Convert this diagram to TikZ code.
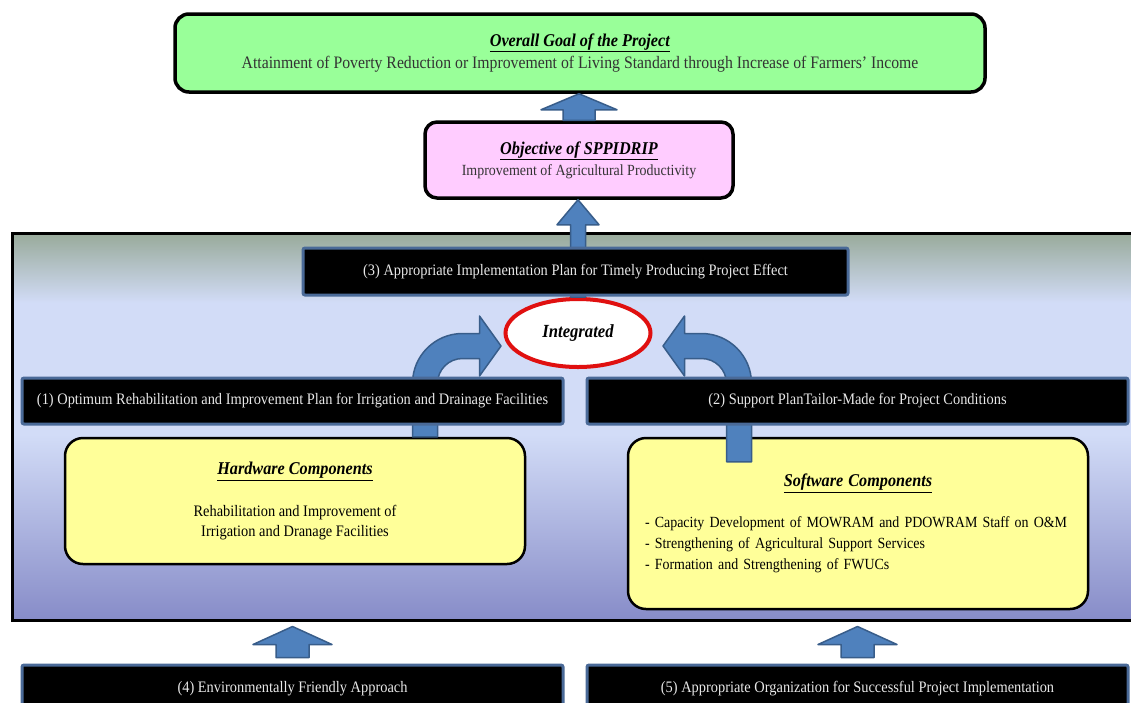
\documentclass[tikz,border=0pt]{standalone}
\usepackage{fontspec}
\setmainfont{Liberation Serif}[FakeStretch=0.9]
\usetikzlibrary{positioning}
\usetikzlibrary{shapes.geometric}
\usetikzlibrary{calc}

\definecolor{goalgreen}{HTML}{99FF99}
\definecolor{objpink}{HTML}{FFCCFF}
\definecolor{compyellow}{HTML}{FFFF99}
\definecolor{arrowblue}{HTML}{4F81BD}
\definecolor{arrowedge}{HTML}{385D8A}
\definecolor{planedge}{HTML}{4A6A98}
\definecolor{paneltop}{HTML}{98AA9A}
\definecolor{panelmid}{HTML}{D2DCF7}
\definecolor{panelbot}{HTML}{878CC8}
\definecolor{plantext}{HTML}{E8E8E8}
\definecolor{ringred}{HTML}{E01010}

\pgfdeclareverticalshading{panelshade}{100bp}{color(0bp)=(panelbot); color(25bp)=(panelbot); color(49bp)=(panelmid); color(66bp)=(panelmid); color(75bp)=(paneltop); color(100bp)=(paneltop)}

\newcommand{\titlesize}{\fontsize{18}{22}\selectfont}
\newcommand{\boxtitle}[1]{{\titlesize\color{black}\underline{\textbf{\textit{#1}}}}}

% straight block arrow: from, to, shaft half width, head half width, head length
\newcommand{\upblock}[5]{%
  \path[blockarrow] let \p1 = (#1), \p2 = (#2) in
    (\x1-#3pt,\y1) -- (\x1-#3pt,\y2-#5pt) -- (\x1-#4pt,\y2-#5pt) -- (\x1,\y2)
    -- (\x1+#4pt,\y2-#5pt) -- (\x1+#3pt,\y2-#5pt) -- (\x1+#3pt,\y1) -- cycle;}

\begin{document}
\begin{tikzpicture}[
        x = 1pt, y = -1pt, % pixel grid, y downwards
        goalbox/.style = {draw=black, line width=3.5pt, rounded corners=14pt, fill=goalgreen,
                          minimum width=810pt, minimum height=78pt, align=center, inner sep=0pt},
        objbox/.style = {draw=black, line width=3.5pt, rounded corners=12pt, fill=objpink,
                         minimum width=308pt, minimum height=76pt, align=center, inner sep=0pt},
        compbox/.style = {draw=black, line width=2.5pt, rounded corners=18pt, fill=compyellow,
                          minimum width=460pt, inner sep=0pt},
        planbox/.style = {fill=black, draw=planedge, line width=3pt, rounded corners=2pt,
                          text=plantext, font=\fontsize{16}{18}\selectfont,
                          minimum width=541pt, minimum height=46pt, inner sep=0pt},
        ring/.style = {ellipse, draw=ringred, line width=4pt, fill=white,
                       minimum width=145pt, minimum height=68pt, inner sep=0pt},
        blockarrow/.style = {fill=arrowblue, draw=arrowedge, line width=1.5pt, line join=round}
        ]

  \useasboundingbox[fill=white] (0,0) rectangle (1131,702);

  % framed panel behind the plans
  \node[draw=black, line width=3pt, shading=panelshade, minimum width=1135pt,
        minimum height=387pt, inner sep=0pt] (panel) at (579.5,426.5) {};

  \node[goalbox, font=\fontsize{17.5}{22}\selectfont, text=black!80] (goal) at (580,53)
    {\boxtitle{Overall Goal of the Project}\\
     Attainment of Poverty Reduction or Improvement of Living Standard through Increase of Farmers' Income};
  \node[objbox, font=\fontsize{15.5}{21}\selectfont, text=black!80] (obj) at (579,160)
    {\boxtitle{Objective of SPPIDRIP}\\
     Improvement of Agricultural Productivity};

  \node[compbox, minimum height=126pt, align=center, font=\fontsize{16}{20}\selectfont] (hw) at (295,501)
    {\boxtitle{Hardware Components}\\[22pt]
     Rehabilitation and Improvement of\\ Irrigation and Dranage Facilities};
  \node[compbox, minimum height=171pt, text width=426pt, font=\fontsize{15.5}{21}\selectfont] (sw) at (858,523.5)
    {\centering\boxtitle{Software Components}\par\vspace{20pt}
     \raggedright
     - Capacity Development of MOWRAM and PDOWRAM Staff on O\&M\newline
     - Strengthening of Agricultural Support Services\newline
     - Formation and Strengthening of FWUCs\par};

  \node[ring, font=\fontsize{18.5}{20}\selectfont\bfseries\itshape] (integ) at (578,333) {Integrated};

  \coordinate (hwout) at ($(hw.north)+(130,0)$);
  \coordinate (swout) at ($(sw.north)+(-119,25)$);
  \coordinate (intleft) at ($(integ.west)+(-2.5,13)$);
  \coordinate (intright) at ($(integ.east)+(10.5,13)$);

  % block arrows
  \upblock{obj.north}{goal.south}{16}{38}{16}
  \upblock{integ.north}{obj.south}{7.5}{21}{25}
  \path[blockarrow] let \p1 = (hwout), \p2 = (intleft) in
    (\x1-12.5pt,\y1) -- (\x1-12.5pt,\y2-37.5pt) arc[start angle=180, end angle=90, radius=50pt]
    -- (\x1+54.5pt,\y2+12.5pt) -- (\x1+54.5pt,\y2+30pt) -- (\x2,\y2)
    -- (\x1+54.5pt,\y2-30pt) -- (\x1+54.5pt,\y2-12.5pt) -- (\x1+37.5pt,\y2-12.5pt)
    arc[start angle=90, end angle=180, radius=25pt] -- (\x1+12.5pt,\y1) -- cycle;
  \path[blockarrow] let \p1 = (swout), \p2 = (intright) in
    (\x1+12.5pt,\y1) -- (\x1+12.5pt,\y2-37.5pt) arc[start angle=0, end angle=90, radius=50pt]
    -- (\x1-54.5pt,\y2+12.5pt) -- (\x1-54.5pt,\y2+30pt) -- (\x2,\y2)
    -- (\x1-54.5pt,\y2-30pt) -- (\x1-54.5pt,\y2-12.5pt) -- (\x1-37.5pt,\y2-12.5pt)
    arc[start angle=90, end angle=0, radius=25pt] -- (\x1-12.5pt,\y1) -- cycle;

  % plans
  \node[planbox, minimum width=545pt, minimum height=47pt] (plan3) at (575.5,271.5)
    {(3) Appropriate Implementation Plan for Timely Producing Project Effect};
  \node[planbox] (plan1) at (292.5,401)
    {(1) Optimum Rehabilitation and Improvement Plan for Irrigation and Drainage Facilities};
  \node[planbox] (plan2) at (857.5,401)
    {(2) Support PlanTailor-Made for Project Conditions};
  \node[planbox, minimum height=47pt] (plan4) at (292.5,688.5)
    {(4) Environmentally Friendly Approach};
  \node[planbox, minimum height=47pt] (plan5) at (857.5,688.5)
    {(5) Appropriate Organization for Successful Project Implementation};

  \upblock{$(plan4.north)+(0,-6)$}{$(panel.south)+(0,5)$}{16.5}{39.5}{18}
  \upblock{$(plan5.north)+(0,-6)$}{$(panel.south -| plan5.north)+(0,5)$}{16.5}{39.5}{18}

\end{tikzpicture}
\end{document}
